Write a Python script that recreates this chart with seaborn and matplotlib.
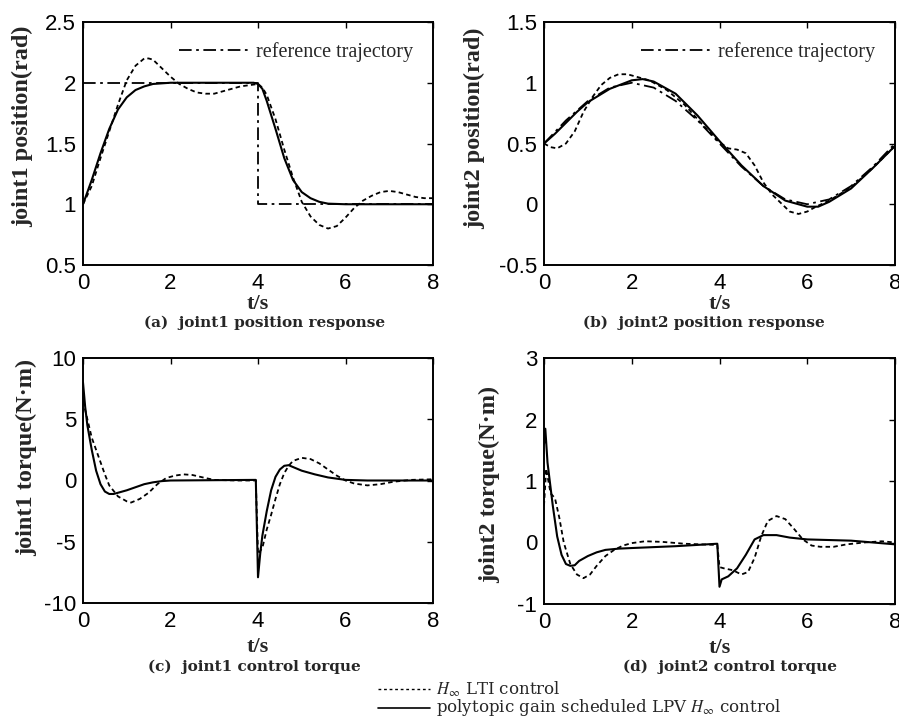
import numpy as np
import matplotlib
matplotlib.use("Agg")
import matplotlib.pyplot as plt
import seaborn as sns

# ---- data ----
# (a) joint1 position
t_ref1 = [0, 4, 4, 8]
ref1 = [2, 2, 1, 1]
t_lpv1 = [0, 0.2, 0.4, 0.6, 0.8, 1.0, 1.2, 1.4, 1.6, 2.0, 3.9, 4.0, 4.1, 4.2, 4.4,
          4.6, 4.8, 5.0, 5.2, 5.4, 5.6, 6.0, 8.0]
lpv1 = [1.0, 1.2, 1.42, 1.62, 1.78, 1.88, 1.94, 1.97, 1.99, 2.0, 2.0, 1.99, 1.95,
        1.85, 1.62, 1.38, 1.2, 1.1, 1.05, 1.02, 1.005, 1.0, 1.0]
t_lti1 = [0, 0.2, 0.4, 0.6, 0.8, 1.0, 1.2, 1.4, 1.5, 1.6, 1.8, 2.0, 2.2, 2.4, 2.6,
          2.8, 3.0, 3.2, 3.4, 3.6, 3.8, 4.0, 4.1, 4.2, 4.4, 4.6, 4.8, 5.0, 5.2,
          5.4, 5.6, 5.8, 6.0, 6.2, 6.4, 6.6, 6.8, 7.0, 7.2, 7.4, 7.6, 7.8, 8.0]
lti1 = [1.0, 1.15, 1.38, 1.6, 1.82, 2.02, 2.14, 2.2, 2.2, 2.19, 2.12, 2.05, 1.99,
        1.95, 1.92, 1.91, 1.91, 1.93, 1.95, 1.97, 1.98, 1.99, 1.96, 1.9, 1.7,
        1.45, 1.22, 1.02, 0.9, 0.83, 0.8, 0.82, 0.89, 0.97, 1.03, 1.07, 1.1,
        1.11, 1.1, 1.08, 1.06, 1.05, 1.05]

# (b) joint2 position
t_ref2 = [0, 0.5, 1, 1.5, 2, 2.5, 3, 3.5, 4, 4.5, 5, 5.5, 6, 6.5, 7, 7.5, 8]
ref2 = [0.5, 0.69, 0.85, 0.96, 1.0, 0.96, 0.85, 0.69, 0.5, 0.31, 0.15, 0.04, 0.0,
        0.04, 0.15, 0.31, 0.5]
t_lpv2 = [0, 0.25, 0.5, 0.75, 1, 1.5, 2, 2.25, 2.5, 3, 3.5, 4, 4.5, 5, 5.5, 6,
          6.25, 6.5, 7, 7.5, 8]
lpv2 = [0.5, 0.58, 0.67, 0.76, 0.84, 0.95, 1.02, 1.03, 1.01, 0.91, 0.73, 0.52,
        0.32, 0.15, 0.03, -0.02, -0.02, 0.02, 0.13, 0.3, 0.48]
t_lti2 = [0, 0.15, 0.3, 0.5, 0.7, 0.9, 1.1, 1.3, 1.5, 1.7, 1.9, 2.1, 2.4, 2.8,
          3.2, 3.6, 4.0, 4.2, 4.4, 4.6, 4.8, 5.0, 5.2, 5.4, 5.6, 5.8, 6.0, 6.2,
          6.5, 7.0, 7.5, 8.0]
lti2 = [0.5, 0.47, 0.46, 0.5, 0.6, 0.76, 0.88, 0.98, 1.04, 1.07, 1.07, 1.05,
        1.02, 0.94, 0.82, 0.66, 0.51, 0.46, 0.45, 0.42, 0.32, 0.18, 0.08, 0.01,
        -0.06, -0.08, -0.06, -0.02, 0.03, 0.14, 0.3, 0.48]

# (c) joint1 control torque
t_lpv3 = [0, 0.05, 0.1, 0.2, 0.3, 0.4, 0.5, 0.6, 0.7, 0.8, 1.0, 1.2, 1.4, 1.6,
          1.8, 2.0, 3.95, 4.0, 4.05, 4.1, 4.2, 4.3, 4.4, 4.5, 4.6, 4.7, 4.8,
          5.0, 5.3, 5.6, 6.0, 6.5, 8.0]
lpv3 = [8, 6, 4.5, 2.5, 0.8, -0.3, -0.9, -1.1, -1.1, -1.0, -0.8, -0.55, -0.3,
        -0.15, -0.05, 0.0, 0.05, -7.9, -6.0, -4.5, -2.5, -0.8, 0.3, 0.9, 1.2,
        1.25, 1.1, 0.8, 0.5, 0.25, 0.05, 0.0, 0.0]
t_lti3 = [0, 0.1, 0.2, 0.3, 0.4, 0.5, 0.6, 0.8, 1.0, 1.1, 1.3, 1.5, 1.7, 1.9,
          2.1, 2.3, 2.5, 2.8, 3.0, 3.5, 3.95, 4.0, 4.1, 4.2, 4.3, 4.4, 4.5, 4.6,
          4.7, 4.8, 5.0, 5.2, 5.4, 5.6, 5.8, 6.0, 6.2, 6.5, 6.8, 7.1, 7.5, 8.0]
lti3 = [6.5, 5, 3.5, 2.5, 1.5, 0.5, -0.4, -1.3, -1.7, -1.8, -1.5, -1.0, -0.3,
        0.2, 0.4, 0.5, 0.45, 0.2, 0.05, 0.0, 0.0, -6.0, -5.5, -4.0, -2.8, -1.5,
        -0.3, 0.6, 1.2, 1.6, 1.85, 1.75, 1.4, 0.9, 0.4, 0.0, -0.25, -0.4, -0.3,
        -0.1, 0.05, 0.1]

# (d) joint2 control torque
t_lpv4 = [0, 0.03, 0.08, 0.2, 0.3, 0.4, 0.5, 0.6, 0.7, 0.8, 1.0, 1.2, 1.4, 1.7,
          2.0, 3.0, 3.95, 4.0, 4.05, 4.2, 4.4, 4.6, 4.8, 5.0, 5.3, 5.6, 6.0,
          7.0, 8.0]
lpv4 = [1.6, 1.85, 1.3, 0.6, 0.1, -0.2, -0.35, -0.38, -0.37, -0.3, -0.22, -0.16,
        -0.12, -0.1, -0.09, -0.06, -0.02, -0.72, -0.6, -0.55, -0.42, -0.2, 0.05,
        0.12, 0.12, 0.08, 0.05, 0.03, -0.03]
t_lti4 = [0, 0.05, 0.1, 0.15, 0.25, 0.35, 0.45, 0.6, 0.75, 0.9, 1.05, 1.2, 1.4,
          1.6, 1.8, 2.0, 2.3, 2.7, 3.2, 3.95, 4.0, 4.1, 4.3, 4.5, 4.65, 4.8,
          4.95, 5.1, 5.3, 5.5, 5.7, 5.9, 6.1, 6.3, 6.6, 6.9, 7.3, 7.7, 8.0]
lti4 = [0.6, 1.2, 1.0, 0.8, 0.72, 0.4, 0.0, -0.35, -0.52, -0.58, -0.52, -0.38,
        -0.22, -0.12, -0.05, -0.01, 0.02, 0.01, -0.02, -0.04, -0.4, -0.42, -0.45,
        -0.52, -0.48, -0.25, 0.1, 0.35, 0.43, 0.38, 0.22, 0.05, -0.05, -0.07,
        -0.07, -0.03, 0.0, 0.02, 0.0]

x_ticks = [0, 2, 4, 6, 8]
ylabels = ["joint1 position(rad)", "joint2 position(rad)",
           "joint1 torque(N·m)", "joint2 torque(N·m)"]
captions = ["(a)  joint1 position response", "(b)  joint2 position response",
            "(c)  joint1 control torque", "(d)  joint2 control torque"]

sns.set_style("white")
plt.rcParams["font.family"] = ["Liberation Sans", "DejaVu Sans"]
plt.rcParams["mathtext.fontset"] = "stix"

W, H = 899, 719
fig = plt.figure(figsize=(W / 100, H / 100), dpi=100)


def px_axes(l, t, r, b):
    return fig.add_axes([l / W, 1 - b / H, (r - l) / W, (b - t) / H])


axes = [px_axes(83, 22, 433, 265), px_axes(544, 22, 895, 265),
        px_axes(83, 358, 433, 603), px_axes(544, 358, 895, 604)]

LTI_STYLE = dict(color="black", linestyle=(0, (2.5, 1.8)), lw=1.3)
LPV_STYLE = dict(color="black", linestyle="-", lw=1.5)
REF_STYLE = dict(color="black", linestyle=(0, (7, 2.5, 1.5, 2.5)), lw=1.3)

series = [
    (t_ref1, ref1, t_lpv1, lpv1, t_lti1, lti1),
    (t_ref2, ref2, t_lpv2, lpv2, t_lti2, lti2),
    (None, None, t_lpv3, lpv3, t_lti3, lti3),
    (None, None, t_lpv4, lpv4, t_lti4, lti4),
]
ylims = [(0.5, 2.5), (-0.5, 1.5), (-10, 10), (-1, 3)]
yticks = [[0.5, 1, 1.5, 2, 2.5], [-0.5, 0, 0.5, 1, 1.5],
          [-10, -5, 0, 5, 10], [-1, 0, 1, 2, 3]]
ylabel_pos = [(-0.143, 0.572), (-0.168, 0.564), (-0.131, 0.596), (-0.125, 0.488)]
xlabel_y = [-0.12, -0.12, -0.14, -0.14]

for i, ax in enumerate(axes):
    tr, yr, tp, yp, tl, yl = series[i]
    if tr is not None:
        sns.lineplot(x=tr, y=yr, ax=ax, sort=False, estimator=None,
                     label="reference trajectory", **REF_STYLE)
    sns.lineplot(x=tl, y=yl, ax=ax, sort=False, estimator=None, **LTI_STYLE)
    sns.lineplot(x=tp, y=yp, ax=ax, sort=False, estimator=None, **LPV_STYLE)

    ax.set_xlim(0, 8)
    ax.set_ylim(*ylims[i])
    ax.set_xticks(x_ticks)
    ax.set_yticks(yticks[i])
    ax.set_yticklabels([f"{v:g}" for v in yticks[i]])
    ax.tick_params(direction="in", length=4, width=1, top=True, right=True,
                   labelsize=16, colors="black")
    ax.tick_params(axis="x", pad=6)
    ax.tick_params(axis="y", pad=5)
    for s in ax.spines.values():
        s.set_color("black")
        s.set_linewidth(1.4)
    ax.set_xlabel("t/s", family="Liberation Serif", fontsize=16, fontweight="bold")
    ax.xaxis.set_label_coords(0.5, xlabel_y[i])
    ax.set_ylabel(ylabels[i], family="Liberation Serif", fontsize=17.5,
                  fontweight="bold")
    ax.yaxis.set_label_coords(*ylabel_pos[i])
    if tr is not None:
        ax.legend(loc="upper right", frameon=False, handlelength=3.5,
                  prop={"family": "Liberation Serif", "size": 14.5},
                  borderaxespad=0.6, handletextpad=0.3)
    elif ax.get_legend() is not None:
        ax.get_legend().remove()

# captions
cap_pos = [(265, 323), (704, 323), (254, 667), (730, 667)]
for (cx, cy), txt in zip(cap_pos, captions):
    fig.text(cx / W, 1 - cy / H, txt, ha="center", va="center",
             family="DejaVu Serif", fontsize=11, fontweight="bold")

# bottom legend
fig.add_artist(plt.Line2D([378 / W, 430 / W], [1 - 689 / H, 1 - 689 / H],
                          color="black", linestyle=(0, (2, 2)), lw=1.0))
fig.add_artist(plt.Line2D([378 / W, 430 / W], [1 - 708 / H, 1 - 708 / H],
                          color="black", linestyle="-", lw=1.2))
fig.text(436 / W, 1 - 689 / H, r"$H_\infty$ LTI control", ha="left", va="center",
         family="DejaVu Serif", fontsize=12)
fig.text(436 / W, 1 - 708 / H,
         r"polytopic gain scheduled LPV $H_\infty$ control", ha="left",
         va="center", family="DejaVu Serif", fontsize=12)

fig.savefig("out.png", dpi=100)
